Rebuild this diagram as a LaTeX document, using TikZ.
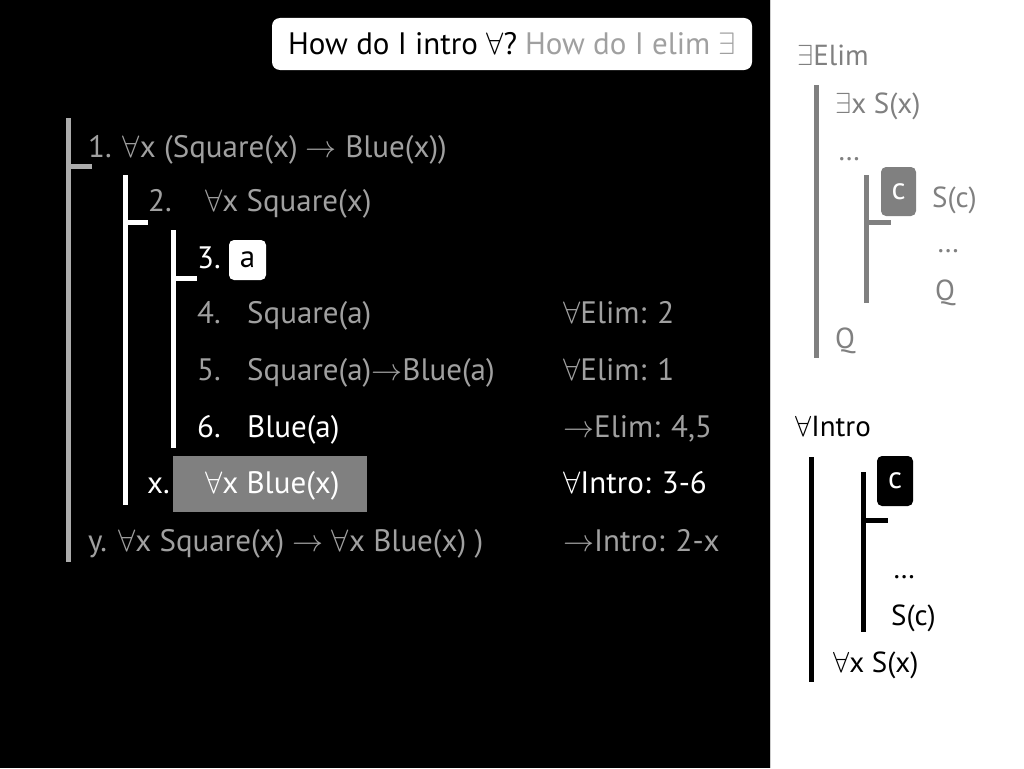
\RequirePackage{fix-cm}
\documentclass[tikz,border=0pt]{standalone}
\usepackage{fontspec}
\setmainfont{PT Sans}
\usetikzlibrary{positioning}
\definecolor{lgrey}{RGB}{160,160,160}
\definecolor{mgrey}{RGB}{128,128,128}
\definecolor{bargrey}{RGB}{172,172,172}
\definecolor{edgegrey}{RGB}{205,205,205}

\begin{document}
\begin{tikzpicture}
	% Styles
	[
	x=1pt,y=-1pt,
	line/.style={anchor=base west,inner sep=0pt,font=\fontsize{31}{36}\selectfont},
	side/.style={anchor=base west,inner sep=0pt,font=\fontsize{29}{34}\selectfont},
	dim/.style={text=lgrey},
	bright/.style={text=white},
	bar/.style={line width=5pt},
	varbox/.style={rounded corners=5pt,inner sep=0pt,font=\fontsize{31}{36}\selectfont},
	]
	\useasboundingbox (0,0) rectangle (1024,768);

	% Background
	\fill[black] (0,0) rectangle (770,768);
	\fill[white] (770,0) rectangle (1024,768);
	\draw[edgegrey,line width=1pt] (770.5,0) -- (770.5,768);

	% Question box
	\node at (512,44)	(ask)	[fill=white,rounded corners=8pt,minimum width=480,minimum height=52,inner sep=0pt,font=\fontsize{31}{36}\selectfont]
		{How do I intro $\forall$?\hspace{8pt}\textcolor{lgrey}{How do I elim $\exists$}};

	% Proof lines
	\node at (88,157)	(l1)	[line,dim] {1. $\forall$x (Square(x) $\rightarrow$ Blue(x))};
	\node at (148,211)	(n2)	[line,dim] {2.};
	\node at (205,211)	(l2)	[line,dim] {$\forall$x Square(x)};
	\node at (197,268)	(n3)	[line,bright] {3.};
	\node at (247.5,260)	(a)	[varbox,fill=white,text=black,minimum width=37,minimum height=40] {a};
	\node at (197,323)	(n4)	[line,dim] {4.};
	\node at (247,323)	(l4)	[line,dim] {Square(a)};
	\node at (197,380)	(n5)	[line,dim] {5.};
	\node at (247,380)	(l5)	[line,dim] {Square(a)$\rightarrow$Blue(a)};
	\node at (197,437)	(n6)	[line,bright] {6.};
	\node at (247,437)	(l6)	[line,bright] {Blue(a)};
	\node at (270,484)	(hl)	[fill=mgrey,minimum width=194,minimum height=56,inner sep=0pt] {};
	\node at (147,493)	(nx)	[line,bright] {x.};
	\node at (205,493)	(lx)	[line,bright] {$\forall$x Blue(x)};
	\node at (88,551)	(ly)	[line,dim] {y. $\forall$x Square(x) $\rightarrow$ $\forall$x Blue(x) )};

	% Rules
	\node at (563,323)	(r4)	[line,dim] {$\forall$Elim: 2};
	\node at (563,380)	(r5)	[line,dim] {$\forall$Elim: 1};
	\node at (563,437)	(r6)	[line,dim] {$\rightarrow$Elim: 4,5};
	\node at (563,493)	(rx)	[line,bright] {$\forall$Intro: 3-6};
	\node at (563,551)	(ry)	[line,dim] {$\rightarrow$Intro: 2-x};

	% Scope bars
	\draw[bar,bargrey] (68,118) -- (68,562) (68,166) -- (92,166);
	\draw[bar,white] (125,175) -- (125,505) (125,222) -- (148,222);
	\draw[bar,white] (173,230) -- (173,448) (173,278) -- (197,278);

	% Exists elim pattern
	\node at (797,65)	(ehead)	[side,text=mgrey] {$\exists$Elim};
	\node at (835,113)	(e1)	[side,text=mgrey] {$\exists$x S(x)};
	\node at (838,160)	(e2)	[side,text=mgrey] {\dots};
	\node at (898.5,191.5)	(ec)	[varbox,fill=mgrey,text=white,minimum width=35,minimum height=49] {c};
	\node at (932,207)	(e3)	[side,text=mgrey] {S(c)};
	\node at (937,252)	(e4)	[side,text=mgrey] {\dots};
	\node at (935,300)	(e5)	[side,text=mgrey] {Q};
	\node at (835,348)	(e6)	[side,text=mgrey] {Q};
	\draw[bar,mgrey] (816,85) -- (816,358);
	\draw[bar,mgrey] (866,175) -- (866,303) (866,222) -- (891,222);

	% Forall intro pattern
	\node at (795,436)	(ahead)	[side,text=black] {$\forall$Intro};
	\node at (895,481)	(ac)	[varbox,fill=black,text=white,minimum width=36,minimum height=50] {c};
	\node at (893,578)	(a1)	[side,text=black] {\dots};
	\node at (891,625)	(a2)	[side,text=black] {S(c)};
	\node at (833,672)	(a3)	[side,text=black] {$\forall$x S(x)};
	\draw[bar,black] (811,457) -- (811,682);
	\draw[bar,black] (863,472) -- (863,632) (863,520) -- (888,520);

\end{tikzpicture}
\end{document}
